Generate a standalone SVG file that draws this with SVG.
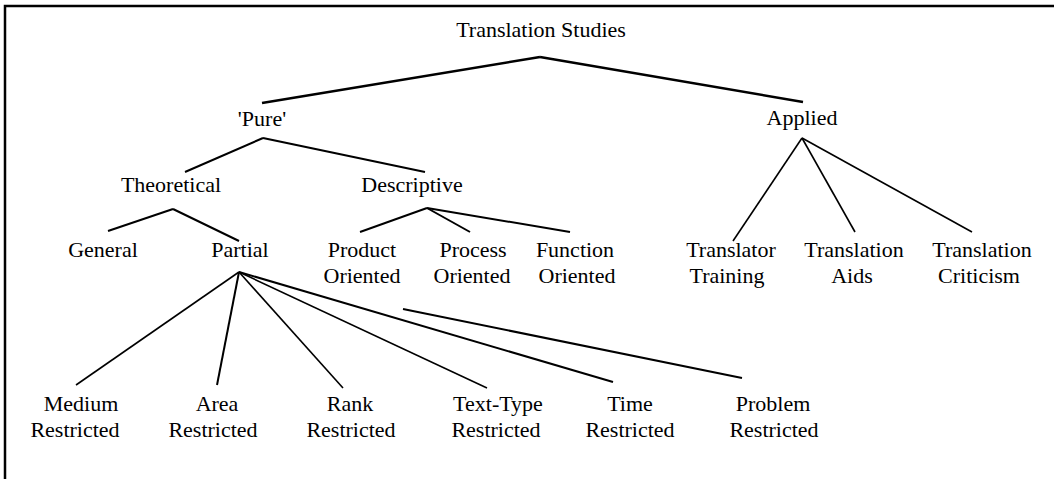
<svg xmlns="http://www.w3.org/2000/svg" width="1054" height="479" viewBox="0 0 1054 479">
<style>
.n text{font-family:"Liberation Serif","Tinos","Nimbus Roman","FreeSerif","DejaVu Serif","Noto Serif",Times,serif;font-size:22px;fill:#000;text-anchor:middle}
.c line{stroke:#000;stroke-width:2;stroke-linecap:butt}
.c .t{stroke-width:1.6}
.c .k{stroke-width:2.5}
.b{stroke:#000;stroke-width:2.5;fill:none}
</style>
<rect x="0" y="0" width="1054" height="479" fill="#fff"/>
<path class="b" d="M5,479 V6 H1054"/>
<g class="c" id="connectors">
<line class="k" x1="540" y1="57" x2="262" y2="103"/>
<line class="k" x1="540" y1="57" x2="803" y2="102"/>
<line x1="263" y1="138" x2="185" y2="172"/>
<line x1="263" y1="138" x2="425" y2="172"/>
<line x1="173" y1="209" x2="108" y2="231"/>
<line x1="173" y1="209" x2="239" y2="241"/>
<line x1="427" y1="208" x2="360" y2="232"/>
<line x1="427" y1="208" x2="470" y2="232"/>
<line x1="427" y1="208" x2="570" y2="232"/>
<line class="t" x1="802" y1="138" x2="733" y2="241"/>
<line class="t" x1="802" y1="138" x2="855" y2="232"/>
<line class="t" x1="802" y1="138" x2="972" y2="232"/>
<line class="t" x1="239" y1="272" x2="76" y2="385"/>
<line x1="239" y1="272" x2="217" y2="385"/>
<line class="t" x1="239" y1="272" x2="343" y2="388"/>
<line class="t" x1="239" y1="272" x2="487" y2="388"/>
<line x1="239" y1="272" x2="613" y2="382"/>
<line x1="403" y1="309" x2="742" y2="378"/>
</g>
<g class="n">
<g id="root"><text x="541" y="37">Translation Studies</text></g>
<g id="pure"><text x="262" y="126">'Pure'</text></g>
<g id="applied"><text x="802" y="125">Applied</text></g>
<g id="theoretical"><text x="171" y="192">Theoretical</text></g>
<g id="descriptive"><text x="412" y="192">Descriptive</text></g>
<g id="general"><text x="103" y="257">General</text></g>
<g id="partial"><text x="240" y="257">Partial</text></g>
<g id="product"><text x="362" y="257">Product</text><text x="362" y="283">Oriented</text></g>
<g id="process"><text x="473" y="257">Process</text><text x="472" y="283">Oriented</text></g>
<g id="function"><text x="575" y="257">Function</text><text x="577" y="283">Oriented</text></g>
<g id="training"><text x="731" y="257">Translator</text><text x="727" y="283">Training</text></g>
<g id="aids"><text x="854" y="257">Translation</text><text x="852" y="283">Aids</text></g>
<g id="criticism"><text x="982" y="257">Translation</text><text x="979" y="283">Criticism</text></g>
<g id="medium"><text x="81" y="411">Medium</text><text x="75" y="437">Restricted</text></g>
<g id="area"><text x="217" y="411">Area</text><text x="213" y="437">Restricted</text></g>
<g id="rank"><text x="350" y="411">Rank</text><text x="351" y="437">Restricted</text></g>
<g id="texttype"><text x="498" y="411">Text-Type</text><text x="496" y="437">Restricted</text></g>
<g id="time"><text x="630" y="411">Time</text><text x="630" y="437">Restricted</text></g>
<g id="problem"><text x="773" y="411">Problem</text><text x="774" y="437">Restricted</text></g>
</g>
</svg>
